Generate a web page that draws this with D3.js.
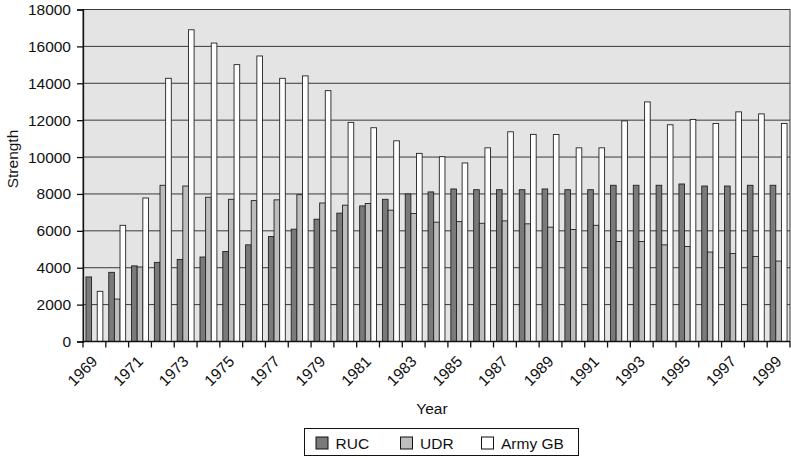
<!DOCTYPE html>
<html><head><meta charset="utf-8">
<script src="https://cdn.jsdelivr.net/npm/d3@7"></script>
<style>body{margin:0;background:#fff}svg{display:block;font-family:"Liberation Sans",Arial,sans-serif}</style>
</head><body>
<svg id="c" width="791" height="459"></svg>
<script>
const years = [1969,1970,1971,1972,1973,1974,1975,1976,1977,1978,1979,1980,1981,1982,1983,1984,1985,1986,1987,1988,1989,1990,1991,1992,1993,1994,1995,1996,1997,1998,1999];
const ruc = [3500,3750,4100,4290,4450,4580,4880,5240,5690,6090,6630,6960,7350,7710,8000,8110,8270,8230,8230,8230,8270,8230,8230,8470,8470,8470,8540,8430,8430,8470,8470];
const udr = [0,2300,4040,8470,8430,7820,7710,7640,7680,7960,7510,7390,7480,7120,6940,6470,6500,6410,6540,6380,6200,6070,6300,5420,5420,5240,5150,4850,4770,4610,4360];
const army = [2720,6300,7780,14270,16900,16180,15010,15480,14270,14400,13600,11880,11590,10880,10200,10020,9680,10500,11370,11230,11220,10500,10500,11960,12990,11750,12040,11820,12450,12340,11820];
const seriesNames = ["RUC","UDR","Army GB"];
const seriesColors = ["#7a7a7a","#bdbdbd","#ffffff"];
const yTicks = [0,2000,4000,6000,8000,10000,12000,14000,16000,18000];

const svg = d3.select("#c");
const FS = 15.5;
const L = 83, R = 790, T = 9.5, B = 341.5;
const x0 = d3.scaleBand().domain(years).range([L, R]).padding(0);
const x1 = d3.scaleBand().domain(seriesNames).range([2.95, x0.bandwidth() - 2.95]).padding(0);
const y = d3.scaleLinear().domain([0, 18000]).range([B, T]);

svg.append("rect").attr("x", L).attr("y", T).attr("width", R - L).attr("height", B - T).attr("fill", "#e4e4e4");

// gridlines
svg.append("g").selectAll("line").data(yTicks).join("line")
  .attr("x1", L).attr("x2", R).attr("y1", d => y(d)).attr("y2", d => y(d))
  .attr("stroke", "#3a3a3a").attr("stroke-width", 1);

// bars
const data = [ruc, udr, army];
const g = svg.append("g");
years.forEach((yr, i) => {
  seriesNames.forEach((s, j) => {
    const v = data[j][i];
    if (!v) return;
    g.append("rect")
      .attr("x", x0(yr) + x1(s))
      .attr("y", y(v))
      .attr("width", x1.bandwidth())
      .attr("height", y(0) - y(v))
      .attr("fill", seriesColors[j])
      .attr("stroke", "#222").attr("stroke-width", 0.9);
  });
});

// plot border
svg.append("rect").attr("x", L).attr("y", T).attr("width", R - L).attr("height", B - T)
  .attr("fill", "none").attr("stroke", "#3a3a3a").attr("stroke-width", 1);

// y axis
const yAxis = svg.append("g").attr("transform", `translate(${L},0)`)
  .call(d3.axisLeft(y).tickValues(yTicks).tickSize(6).tickPadding(6).tickFormat(d3.format("d")));
yAxis.select(".domain").attr("stroke", "#111").attr("stroke-width", 1.3);
yAxis.selectAll(".tick line").attr("stroke", "#111").attr("stroke-width", 1.3);
yAxis.selectAll("text").attr("font-size", FS).attr("fill", "#111").attr("font-family", "Liberation Sans, Arial, sans-serif");

// x axis
svg.append("line").attr("x1", L).attr("x2", R).attr("y1", B).attr("y2", B).attr("stroke", "#111").attr("stroke-width", 1.3);
const bounds = years.map(d => x0(d)).concat([R]);
svg.append("g").selectAll("line").data(bounds).join("line")
  .attr("x1", d => d).attr("x2", d => d).attr("y1", B).attr("y2", B + 6)
  .attr("stroke", "#111").attr("stroke-width", 1.3);
svg.append("g").selectAll("text").data(years.filter(d => d % 2 === 1)).join("text")
  .attr("transform", d => `translate(${x0(d) + x0.bandwidth() / 2 + 4},${B + 21}) rotate(-45)`)
  .attr("text-anchor", "end").attr("font-size", FS).attr("fill", "#111")
  .text(d => d);

// axis titles
svg.append("text").attr("transform", "translate(18,159) rotate(-90)").attr("text-anchor", "middle")
  .attr("font-size", FS).attr("fill", "#111").text("Strength");
svg.append("text").attr("x", 432).attr("y", 414).attr("text-anchor", "middle")
  .attr("font-size", FS).attr("fill", "#111").text("Year");

// legend
const lg = svg.append("g");
lg.append("rect").attr("x", 304.5).attr("y", 428.5).attr("width", 274).attr("height", 27)
  .attr("fill", "#fff").attr("stroke", "#111").attr("stroke-width", 1);
const legX = [316, 400.5, 481.5];
seriesNames.forEach((s, j) => {
  lg.append("rect").attr("x", legX[j]).attr("y", 437).attr("width", 12).attr("height", 12)
    .attr("fill", seriesColors[j]).attr("stroke", "#111").attr("stroke-width", 1);
  lg.append("text").attr("x", legX[j] + 19.5).attr("y", 449).attr("font-size", FS).attr("fill", "#111").text(s);
});
</script>
</body></html>
